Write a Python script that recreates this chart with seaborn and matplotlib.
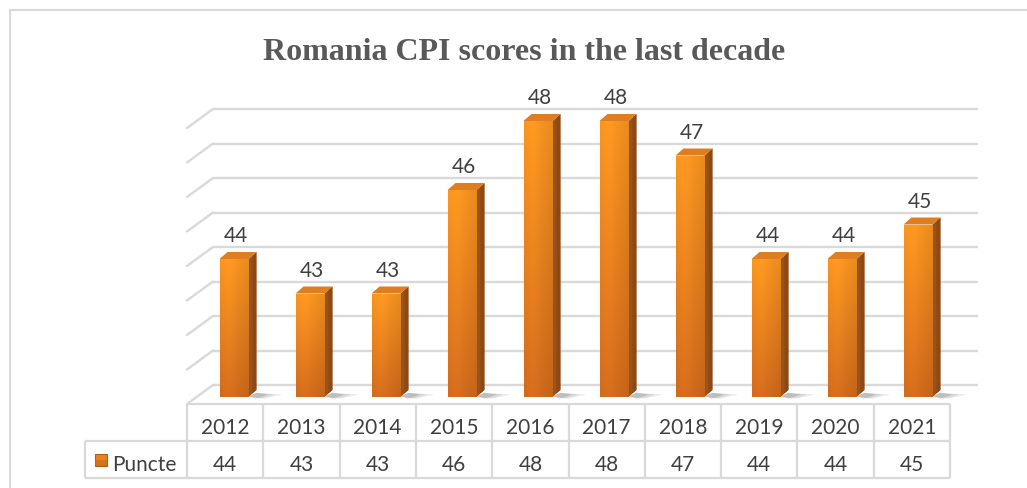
import numpy as np
import matplotlib
matplotlib.use("Agg")
import matplotlib.pyplot as plt
import seaborn as sns
import pandas as pd
from matplotlib.patches import Polygon, Rectangle
from matplotlib.lines import Line2D

# ---- data ----
years = ["2012", "2013", "2014", "2015", "2016", "2017", "2018", "2019", "2020", "2021"]
scores = [44, 43, 43, 46, 48, 48, 47, 44, 44, 45]
series_name = "Puncte"
title = "Romania CPI scores in the last decade"
y_min, y_max = 40, 48

sns.set_theme(style="white")
plt.rcParams['font.family'] = ['Lato', 'DejaVu Sans']

W, H = 1027, 488
fig = plt.figure(figsize=(W / 100, H / 100), dpi=100)
fig.patch.set_facecolor("white")

PX_CAT = 76.0
PX_UNIT = 34.5
y_top = 49.5
ax = fig.add_axes([196 / W, 91 / H, 760 / W, (y_top - y_min) * PX_UNIT / H])
ax.set_facecolor("none")

df = pd.DataFrame({"year": years, "score": scores})
sns.barplot(data=df, x="year", y="score", color="#F28A22", width=29 / PX_CAT,
            ax=ax, zorder=5, edgecolor="none", linewidth=0)
bars = list(ax.patches)

GRID = "#D9D9D9"
# offsets (data units) relative to bar plane
dxb, dyb = 17 / PX_CAT, 12 / PX_UNIT      # back wall
dxf, dyf = -9 / PX_CAT, -7 / PX_UNIT      # front plane
x_right_back = 9.5 + 22 / PX_CAT

# back wall gridlines + left wall diagonals
for v in range(y_min, y_max + 1):
    ax.add_line(Line2D([-0.5 + dxb, x_right_back], [v + dyb, v + dyb],
                       color=GRID, lw=1.7, zorder=1, solid_capstyle="butt", clip_on=False))
    ax.add_line(Line2D([-0.5 + dxf, -0.5 + dxb], [v + dyf, v + dyb],
                       color=GRID, lw=1.7, zorder=1, clip_on=False))

sx, sy = 8 / PX_CAT, 7 / PX_UNIT

# front-face gradient
nrow, ncol = 80, 24
t = np.linspace(0, 1, nrow)[:, None]          # 0 top -> 1 bottom
top_c = np.array([247, 148, 32]) / 255
bot_c = np.array([208, 106, 28]) / 255
u = np.linspace(0, 1, ncol)[None, :]
hfac = 1.0 + 0.04 * np.exp(-((u - 0.3) / 0.25) ** 2) - 0.06 * u ** 3
grad = (top_c[None, None, :] * (1 - t[..., None]) + bot_c[None, None, :] * t[..., None])
grad = np.clip(grad * hfac[..., None], 0, 1)

for p, v in zip(bars, scores):
    x0 = p.get_x()
    w = p.get_width()
    x1 = x0 + w
    # shadow on the floor
    for k, a in enumerate([0.10, 0.12, 0.16]):
        ext = (26 - 7 * k) / PX_CAT
        sh = Polygon([(x1, y_min + 0.02), (x1 + sx, y_min + sy * 0.6),
                      (x1 + sx + ext, y_min + sy * 0.35), (x1 + ext * 0.6, y_min - 0.05)],
                     closed=True, facecolor="#404040", alpha=a, edgecolor="none", zorder=3,
                     clip_on=False)
        ax.add_patch(sh)
    # side face
    side = Polygon([(x1, y_min), (x1 + sx, y_min + sy), (x1 + sx, v + sy), (x1, v)],
                   closed=True, facecolor="#9A5219", edgecolor="none", zorder=4)
    ax.add_patch(side)
    side_dark = Polygon([(x1 + sx * 0.5, y_min + sy * 0.5), (x1 + sx, y_min + sy),
                         (x1 + sx, v + sy), (x1 + sx * 0.5, v + sy * 0.5)],
                        closed=True, facecolor="#854413", edgecolor="none", zorder=4, alpha=0.6)
    ax.add_patch(side_dark)
    # top cap
    cap = Polygon([(x0, v), (x1, v), (x1 + sx, v + sy), (x0 + sx, v + sy)],
                  closed=True, facecolor="#DE7E20", edgecolor="none", zorder=6)
    ax.add_patch(cap)
    # gradient on the front face
    im = ax.imshow(grad, extent=[x0, x1, y_min, v], origin="upper", aspect="auto",
                   zorder=5.5, interpolation="bilinear")
    im.set_clip_path(p)
    # data label
    ax.text(x0 + w / 2 + sx * 0.2, v + 0.49, f"{v}", ha="center", va="baseline",
            fontsize=15, color="#404040", zorder=7)

ax.set_xlim(-0.5, 9.5)
ax.set_ylim(y_min, y_top)
ax.axis("off")

# ---- overlay in pixel coordinates: border, title, data table ----
ov = fig.add_axes([0, 0, 1, 1], zorder=10)
ov.set_xlim(0, W)
ov.set_ylim(H, 0)
ov.axis("off")
ov.patch.set_alpha(0)

# chart border
ov.plot([10, W], [10, 10], color=GRID, lw=1.5)
ov.plot([10, 10], [10, H], color=GRID, lw=1.5)

ov.text(524, 60, title, ha="center", va="baseline", fontsize=23, fontweight="bold",
        family=["Liberation Serif", "DejaVu Serif"], color="#595959")

# table geometry
tx0 = 187
cw = 76.3
r0, r1, r2 = 404, 441, 478
leg_x = 85
n = len(years)
tx1 = tx0 + cw * n
TL = dict(color=GRID, lw=1.6, solid_capstyle="butt")
ov.plot([tx0, tx1], [r0, r0], **TL)
ov.plot([leg_x, tx1], [r1, r1], **TL)
ov.plot([leg_x, tx1], [r2, r2], **TL)
ov.plot([leg_x, leg_x], [r1, r2], **TL)
for i in range(n + 1):
    xx = tx0 + cw * i
    ov.plot([xx, xx], [r0, r2], **TL)

for i, (yr, v) in enumerate(zip(years, scores)):
    cx = tx0 + cw * (i + 0.5)
    ov.text(cx, 434, yr, ha="center", va="baseline", fontsize=15, color="#404040")
    ov.text(cx, 471, f"{v}", ha="center", va="baseline", fontsize=15, color="#404040")

# legend key
ov.add_patch(Rectangle((95, 454), 12, 12, facecolor="#E8821F", edgecolor="#B35E16", lw=0.8))
ov.add_patch(Rectangle((95, 460), 12, 6, facecolor="#C9681A", edgecolor="none", alpha=0.6))
ov.text(112, 471, series_name, ha="left", va="baseline", fontsize=15, color="#404040")

fig.savefig("out.png", dpi=100)
